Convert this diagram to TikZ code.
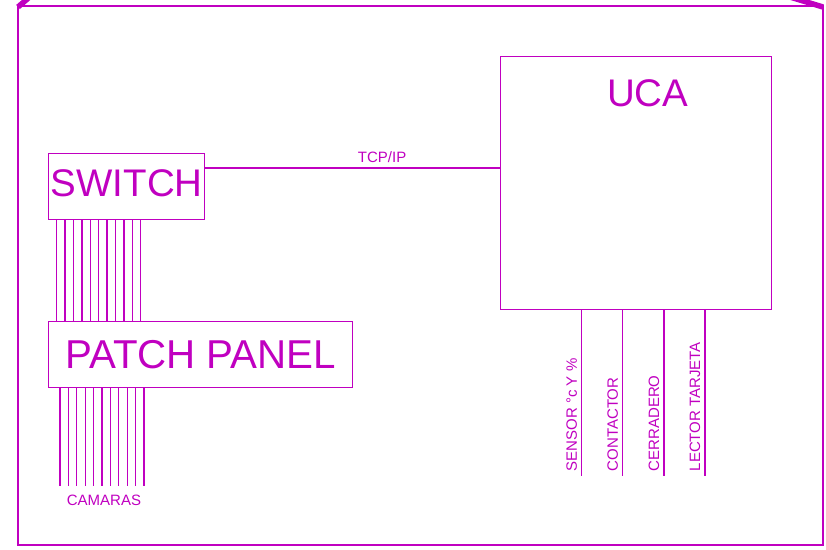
\documentclass[tikz,border=0pt]{standalone}
\usepackage{fontspec}
\setmainfont{Liberation Sans}
\setsansfont{Liberation Sans}
\definecolor{Mcol}{HTML}{C000C0}
\usetikzlibrary{calc, positioning}
\tikzset{
    font=\sffamily,
    box/.style={draw=Mcol, line width=1.4bp, inner sep=0pt, text=Mcol},
    big/.style={font=\sffamily\fontsize{38.5bp}{40bp}\selectfont},
    small/.style={font=\sffamily\fontsize{15bp}{17bp}\selectfont, text=Mcol, inner sep=0pt},
    wire/.style={draw=Mcol, line width=1.3bp}
}

\begin{document}
\begin{tikzpicture}[x=1bp, y=-1bp]
    \useasboundingbox (0,0) rectangle (826,550);
    \clip (0,0) rectangle (826,550);

    % Cabinet outline
    \draw[Mcol, line width=2bp] (18,6) rectangle (823,545);
    \draw[Mcol, line width=5.5bp] (18,7) -- (33,-6);
    \draw[Mcol, line width=5.5bp] (823,7) -- (780,-6);

    % Boxes
    \node[box, big, text depth=7bp, minimum width=156bp, minimum height=66bp, anchor=north west] (switch) at (48,153) {SWITCH};
    \node[box, big, font=\sffamily\fontsize{40.3bp}{42bp}\selectfont, minimum width=304bp, minimum height=66bp, anchor=north west] (patch) at (48,321) {PATCH PANEL};
    \node[box, minimum width=271bp, minimum height=253bp, anchor=north west] (uca) at (500,56) {};
    \node[big, text=Mcol] (ucalabel) at ($(uca.north)+(11.5,37)$) {UCA};

    % TCP/IP link
    \coordinate (tcp) at ($(switch.north east)+(0,15)$);
    \draw[wire] (tcp) -- (tcp -| uca.west) node[small, pos=0.6, above=4.5bp] (tcplabel) {TCP/IP};

    % Cable bundles
    \foreach \i in {0,...,10} {
        \coordinate (s\i) at ($(switch.south west)+(8.7+8.4*\i,0)$);
        \draw[wire] (s\i) -- (s\i |- patch.north);
        \coordinate (c\i) at ($(patch.south west)+(12+8.4*\i,0)$);
        \coordinate (e\i) at ($(c\i)+(0,98)$);
        \draw[wire] (c\i) -- (e\i);
    }
    \node[small] (camaras) at ($(e5)+(2,14)$) {CAMARAS};

    % UCA signals
    \foreach \dx/\name/\txt in {81.7/sensor/{SENSOR °c Y \%}, 122.7/contactor/CONTACTOR, 164/cerradero/CERRADERO, 205/lector/{LECTOR TARJETA}} {
        \coordinate (\name-top) at ($(uca.south west)+(\dx,0)$);
        \coordinate (\name-end) at ($(\name-top)+(0,166)$);
        \draw[wire] (\name-top) -- (\name-end);
        \node[small, rotate=90, anchor=west] (\name) at ($(\name-end)+(-10,-5)$) {\txt};
    }
\end{tikzpicture}
\end{document}
